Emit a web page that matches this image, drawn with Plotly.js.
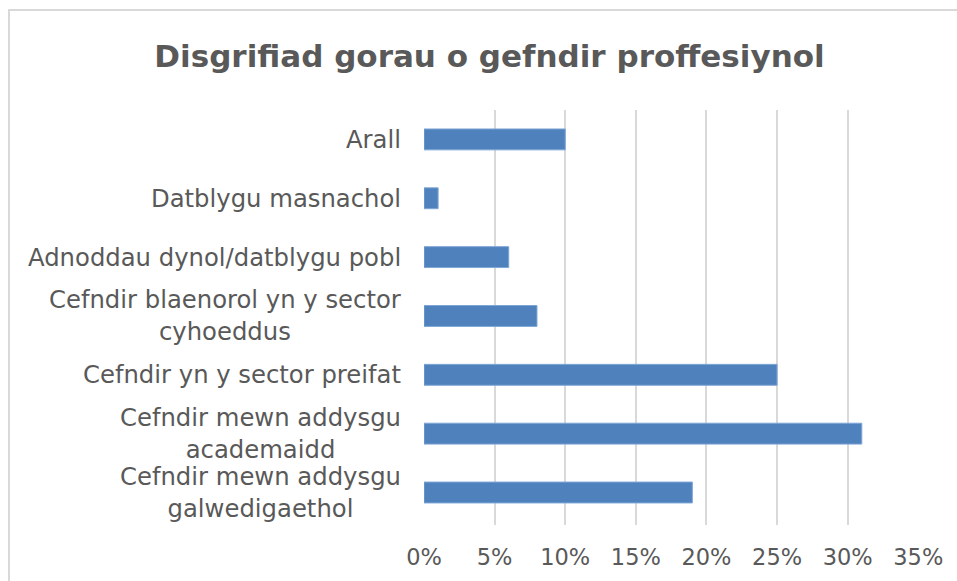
<!DOCTYPE html>
<html>
<head>
<meta charset="utf-8">
<script src="https://cdn.plot.ly/plotly-3.0.1.min.js"></script>
<style>
html, body { margin:0; padding:0; background:#fff; overflow:hidden; }
#chart { width:957px; height:581px; position:absolute; left:0; top:0; }
#frame { position:absolute; left:8px; top:9px; width:1200px; height:1200px; border:2px solid #d9d9d9; pointer-events:none; }
</style>
</head>
<body>
<div id="chart"></div>
<div id="frame"></div>
<script>
const chartTitle = "Disgrifiad gorau o gefndir proffesiynol";
const categories = [
  "Arall",
  "Datblygu masnachol",
  "Adnoddau dynol/datblygu pobl",
  "Cefndir blaenorol yn y sector<br>cyhoeddus",
  "Cefndir yn y sector preifat",
  "Cefndir mewn addysgu<br>academaidd",
  "Cefndir mewn addysgu<br>galwedigaethol"
];
const values = [0.10, 0.01, 0.06, 0.08, 0.25, 0.31, 0.19];
const tickVals = [0, 0.05, 0.10, 0.15, 0.20, 0.25, 0.30, 0.35];
const tickText = ["0%", "5%", "10%", "15%", "20%", "25%", "30%", "35%"];

const textColor = "#595959";
const font = "DejaVu Sans, sans-serif";

const trace = {
  type: "bar",
  orientation: "h",
  y: categories,
  x: values,
  marker: { color: "#4f81bd", line: { color: "#7ea6d6", width: 1 } },
  hoverinfo: "x+y"
};

const annotations = categories.map(c => ({
  text: c,
  x: 0, xref: "paper", xanchor: "right", xshift: -21,
  y: c, yref: "y", yanchor: "middle",
  align: "center",
  showarrow: false,
  font: { family: font, size: 24.3, color: textColor }
}));

const layout = {
  width: 957, height: 581,
  margin: { l: 424, r: 38, t: 110, b: 56 },
  paper_bgcolor: "#ffffff",
  plot_bgcolor: "#ffffff",
  showlegend: false,
  bargap: 0.645,
  title: {
    text: "<b>" + chartTitle + "</b>",
    font: { family: font, size: 31, color: textColor },
    x: 489.5 / 957, xanchor: "center", xref: "container",
    y: 1 - 56/581, yanchor: "middle", yref: "container"
  },
  xaxis: {
    range: [0, 0.3505],
    tickvals: tickVals,
    ticktext: tickText,
    showgrid: true,
    gridcolor: "#d9d9d9",
    gridwidth: 2,
    zeroline: false,
    showline: false,
    ticks: "",
    ticklabelstandoff: 16,
    tickfont: { family: font, size: 22.5, color: textColor },
    fixedrange: true
  },
  yaxis: {
    type: "category",
    autorange: "reversed",
    showticklabels: false,
    showgrid: false,
    zeroline: false,
    showline: false,
    ticks: "",
    fixedrange: true
  },
  annotations: annotations
};

Plotly.newPlot("chart", [trace], layout, { displayModeBar: false, staticPlot: true });
</script>
</body>
</html>
